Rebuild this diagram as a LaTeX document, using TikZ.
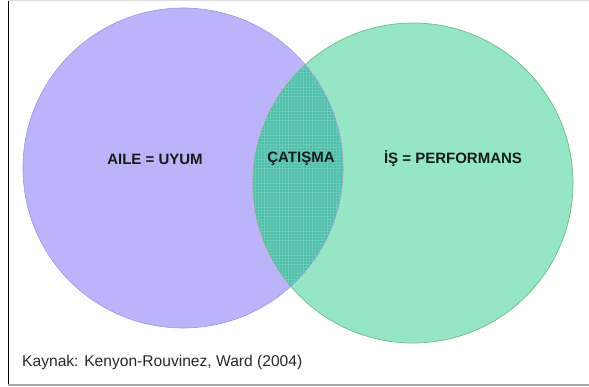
\documentclass[tikz,border=0pt]{standalone}
\usepackage{fontspec}
\setmainfont{Liberation Sans}
\usetikzlibrary{patterns}
\definecolor{lila}{RGB}{188,180,250}
\definecolor{lilaedge}{RGB}{160,148,232}
\definecolor{mint}{RGB}{148,230,196}
\definecolor{mintedge}{RGB}{118,186,128}
\definecolor{teal1}{RGB}{78,190,168}
\definecolor{tealgrid}{RGB}{104,202,184}
\definecolor{txt}{RGB}{20,28,28}
\definecolor{captxt}{RGB}{40,40,40}
\tikzset{
  lbl/.style={font=\fontsize{15}{17}\selectfont\bfseries, text=txt, inner sep=0pt},
  captiontext/.style={font=\fontsize{15.6}{18}\selectfont, text=captxt, inner sep=0pt, anchor=west}
}
\begin{document}
\begin{tikzpicture}[x=1pt,y=-1pt]
\useasboundingbox (0,0) rectangle (589,387);
\fill[white] (0,0) rectangle (589,387);
\coordinate (cL) at (183,168);
\coordinate (cR) at (413,183);
% circles
\fill[lila] (cL) circle (160);
\fill[mint] (cR) circle (160);
% intersection
\begin{scope}
  \clip (cL) circle (160);
  \fill[teal1] (cR) circle (160);
  \fill[pattern=grid, pattern color=tealgrid] (cR) circle (160);
\end{scope}
\draw[lilaedge, line width=0.6pt] (cL) circle (160);
\draw[mintedge, line width=0.7pt] (cR) circle (160);
% frame
\draw[black, line width=1pt] (8,0) -- (8,385);
\draw[gray!70, line width=1.2pt] (8,385) -- (589,385);
\draw[gray!25, line width=0.8pt] (8,0.4) -- (589,0.4);
% labels
\node[lbl] (aile) at (155,159) {AILE = UYUM};
\node[lbl] (catisma) at (301,159) {ÇATIŞMA};
\node[lbl] (is) at (453,159) {İŞ = PERFORMANS};
\node[captiontext] (kaynak) at (22,362) {Kaynak: Kenyon-Rouvinez, Ward (2004)};
\end{tikzpicture}
\end{document}
